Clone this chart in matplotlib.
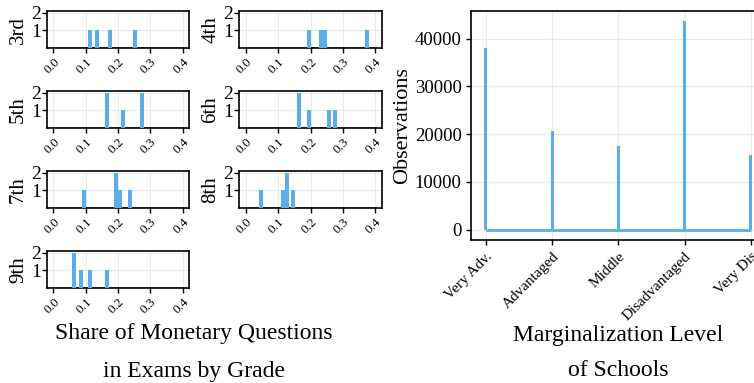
import matplotlib
matplotlib.use("Agg")
import matplotlib.pyplot as plt
import numpy as np

plt.rcParams['font.family'] = ['Liberation Serif', 'DejaVu Serif']

BLUE = '#5DADEC'
GRID = '#ebebeb'

# ---- data: small histograms (bin centres and counts) ----
grades = ['3rd', '4th', '5th', '6th', '7th', '8th', '9th']
share_bins = {
    '3rd': [0.114, 0.134, 0.174, 0.254],
    '4th': [0.195, 0.234, 0.246, 0.376],
    '5th': [0.165, 0.214, 0.275],
    '6th': [0.165, 0.195, 0.256, 0.276],
    '7th': [0.094, 0.195, 0.207, 0.236],
    '8th': [0.046, 0.114, 0.126, 0.146],
    '9th': [0.065, 0.084, 0.114, 0.165],
}
share_counts = {
    '3rd': [1, 1, 1, 1],
    '4th': [1, 1, 1, 1],
    '5th': [2, 1, 2],
    '6th': [2, 1, 1, 1],
    '7th': [1, 2, 1, 1],
    '8th': [1, 1, 2, 1],
    '9th': [2, 1, 1, 1],
}
share_range = [0.0, 0.4]
share_ticks = [0.0, 0.1, 0.2, 0.3, 0.4]
share_tick_labels = ['0.0', '0.1', '0.2', '0.3', '0.4']

# ---- data: marginalization ----
levels = ['Very Adv.', 'Advantaged', 'Middle', 'Disadvantaged', 'Very Dis']
level_obs = [38000, 20700, 17500, 43600, 15600]
obs_ticks = [0, 10000, 20000, 30000, 40000]

W, H = 754, 383
fig = plt.figure(figsize=(W / 100, H / 100), dpi=100)

def px_axes(left, top, right, bottom):
    return fig.add_axes([left / W, 1 - bottom / H, (right - left) / W, (bottom - top) / H])

col_x = [(47, 189), (239.3, 381.7)]
row_y = [(11, 48), (91, 128.3), (171, 208), (251, 288)]

def style_axes(ax):
    for s in ax.spines.values():
        s.set_color('black')
        s.set_linewidth(1.2)
    ax.set_axisbelow(True)
    ax.grid(True, color=GRID, linewidth=0.8)
    ax.tick_params(direction='out', color='black', width=1.0, length=3.5)

for i, g in enumerate(grades):
    r, c = divmod(i, 2)
    ax = px_axes(col_x[c][0], row_y[r][0], col_x[c][1], row_y[r][1])
    style_axes(ax)
    ax.hlines(0, share_range[0], share_range[1], color=BLUE, linewidth=2.0, zorder=2)
    ax.bar(share_bins[g], share_counts[g], width=0.0125, color=BLUE, zorder=3)
    ax.set_xlim(-0.02, 0.42)
    ax.set_ylim(-0.01, 2.1)
    ax.set_yticks([1, 2])
    ax.set_yticklabels(['1', '2'], fontsize=14)
    ax.set_xticks(share_ticks)
    ax.set_xticklabels(share_tick_labels, fontsize=9.5, rotation=45,
                       ha='right', va='top', rotation_mode='anchor')
    ax.set_ylabel(g, fontsize=15, labelpad=2)
    ax.tick_params(axis='y', pad=1)
    ax.tick_params(axis='x', pad=2)

fig.text(194 / W, 1 - 333 / H, 'Share of Monetary Questions', ha='center', va='center', fontsize=17)
fig.text(194 / W, 1 - 371 / H, 'in Exams by Grade', ha='center', va='center', fontsize=17)

# right panel
axr = px_axes(471.3, 11, 765.4, 240)
style_axes(axr)
xpos = np.arange(1, len(levels) + 1)
axr.hlines(0, xpos[0], xpos[-1], color=BLUE, linewidth=2.0, zorder=2)
axr.bar(xpos, level_obs, width=0.045, color=BLUE, zorder=3)
axr.set_xlim(0.78, 5.22)
axr.set_ylim(-2180, 45780)
axr.set_yticks(obs_ticks)
axr.set_yticklabels([str(t) for t in obs_ticks], fontsize=13.5)
axr.set_xticks(xpos)
axr.set_xticklabels(levels, fontsize=11, rotation=45, ha='right', va='top',
                    rotation_mode='anchor')
axr.set_ylabel('Observations', fontsize=16, labelpad=2)

fig.text(618 / W, 1 - 336 / H, 'Marginalization Level', ha='center', va='center', fontsize=17)
fig.text(618 / W, 1 - 371 / H, 'of Schools', ha='center', va='center', fontsize=17)

fig.savefig('out.png', dpi=100)
